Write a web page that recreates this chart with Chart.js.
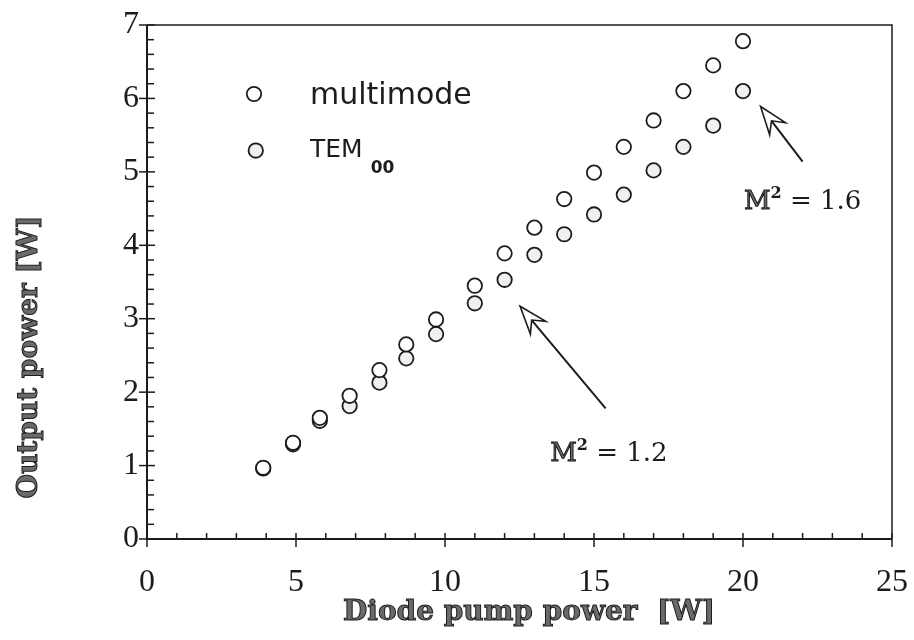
<!DOCTYPE html>
<html>
<head>
<meta charset="utf-8">
<script src="https://cdn.jsdelivr.net/npm/chart.js@4.4.0/dist/chart.umd.min.js"></script>
<style>
  html, body { margin: 0; padding: 0; background: #fff; }
  #wrap { width: 914px; height: 640px; }
</style>
</head>
<body>
<div id="wrap"><canvas id="chart" width="914" height="640"></canvas></div>
<script>
// pump power [W] and measured output power [W]
var pumpPower = [3.9, 4.9, 5.8, 6.8, 7.8, 8.7, 9.7, 11, 12, 13, 14, 15, 16, 17, 18, 19, 20];
var multimodePower = [0.97, 1.31, 1.65, 1.95, 2.30, 2.65, 2.99, 3.45, 3.89, 4.24, 4.63, 4.99, 5.34, 5.70, 6.10, 6.45, 6.78];
var tem00Power = [0.96, 1.29, 1.61, 1.81, 2.13, 2.46, 2.79, 3.21, 3.53, 3.87, 4.15, 4.42, 4.69, 5.02, 5.34, 5.63, 6.10];
var xTickLabels = ["0", "5", "10", "15", "20", "25"];
var yTickLabels = ["0", "1", "2", "3", "4", "5", "6", "7"];

// beam quality notes: arrow tip, arrow tail and label centre in data units
var notes = [
  { value: "1.2", tip: [12.52, 3.17], tail: [15.39, 1.78], label: [15.5, 1.18] },
  { value: "1.6", tip: [20.59, 5.89], tail: [22.0, 5.14], label: [22.0, 4.62] }
];

var INK = "#1c1c1c";
var SERIF = "'Liberation Serif', 'DejaVu Serif', serif";

function points(ys) {
  var out = [];
  for (var i = 0; i < pumpPower.length; i++) {
    out.push({ x: pumpPower[i], y: ys[i] });
  }
  return out;
}

function outlineText(ctx, text, x, y) {
  ctx.fillStyle = "#6a6a6a";
  ctx.fillText(text, x, y);
  ctx.lineWidth = 1;
  ctx.strokeStyle = INK;
  ctx.strokeText(text, x, y);
}

var decorations = {
  id: "decorations",
  beforeDatasetsDraw: function (chart) {
    var ctx = chart.ctx;
    var a = chart.chartArea;
    var xs = chart.scales.x;
    var ys = chart.scales.y;
    ctx.save();
    ctx.strokeStyle = INK;

    // frame
    ctx.lineWidth = 1.5;
    ctx.beginPath();
    ctx.moveTo(a.left, a.top);
    ctx.lineTo(a.right, a.top);
    ctx.lineTo(a.right, a.bottom);
    ctx.stroke();
    ctx.lineWidth = 2;
    ctx.beginPath();
    ctx.moveTo(a.left, a.top);
    ctx.lineTo(a.left, a.bottom);
    ctx.lineTo(a.right, a.bottom);
    ctx.stroke();

    // y ticks every 0.2, majors cross the axis
    ctx.lineWidth = 1.5;
    for (var i = 0; i <= 35; i++) {
      var py = ys.getPixelForValue(i / 5);
      ctx.beginPath();
      if (i % 5 === 0) {
        ctx.moveTo(a.left - 8, py);
        ctx.lineTo(a.left + 8, py);
      } else {
        ctx.moveTo(a.left, py);
        ctx.lineTo(a.left + 7, py);
      }
      ctx.stroke();
    }
    // x ticks every 1
    for (var j = 0; j <= 25; j++) {
      var px = xs.getPixelForValue(j);
      ctx.beginPath();
      if (j % 5 === 0) {
        ctx.moveTo(px, a.bottom + 8);
        ctx.lineTo(px, a.bottom - 6);
      } else {
        ctx.moveTo(px, a.bottom);
        ctx.lineTo(px, a.bottom - 6);
      }
      ctx.stroke();
    }
    ctx.restore();
  },
  afterDatasetsDraw: function (chart) {
    var ctx = chart.ctx;
    var xs = chart.scales.x;
    var ys = chart.scales.y;
    ctx.save();

    // legend
    var sets = chart.data.datasets;
    var rows = [
      { ds: sets[0], x: 3.59, y: 6.06 },
      { ds: sets[1], x: 3.65, y: 5.29 }
    ];
    for (var r = 0; r < rows.length; r++) {
      var mx = xs.getPixelForValue(rows[r].x);
      var my = ys.getPixelForValue(rows[r].y);
      ctx.beginPath();
      ctx.arc(mx, my, rows[r].ds.pointRadius, 0, Math.PI * 2);
      ctx.fillStyle = rows[r].ds.backgroundColor;
      ctx.fill();
      ctx.lineWidth = rows[r].ds.borderWidth;
      ctx.strokeStyle = rows[r].ds.borderColor;
      ctx.stroke();
    }
    var tx = xs.getPixelForValue(5.47);
    ctx.fillStyle = INK;
    ctx.textBaseline = "middle";
    ctx.textAlign = "left";
    ctx.font = "30px 'DejaVu Sans'";
    ctx.fillText("multimode", tx, ys.getPixelForValue(6.03));
    ctx.font = "25px 'DejaVu Sans'";
    ctx.fillText("TEM", tx, ys.getPixelForValue(5.29));
    var temW = ctx.measureText("TEM").width;
    ctx.font = "bold 17px 'DejaVu Sans'";
    ctx.fillText("00", tx + temW + 8, ys.getPixelForValue(5.05));

    // arrows with notched open heads
    for (var n = 0; n < notes.length; n++) {
      var note = notes[n];
      var tipX = xs.getPixelForValue(note.tip[0]);
      var tipY = ys.getPixelForValue(note.tip[1]);
      var tailX = xs.getPixelForValue(note.tail[0]);
      var tailY = ys.getPixelForValue(note.tail[1]);
      var dx = tipX - tailX, dy = tipY - tailY;
      var len = Math.sqrt(dx * dx + dy * dy);
      dx /= len; dy /= len;
      var nx = -dy, ny = dx;
      var head = 28, half = 10, notch = 18;
      ctx.strokeStyle = INK;
      ctx.lineWidth = 2;
      ctx.beginPath();
      ctx.moveTo(tailX, tailY);
      ctx.lineTo(tipX - dx * notch, tipY - dy * notch);
      ctx.stroke();
      ctx.lineWidth = 1.6;
      ctx.beginPath();
      ctx.moveTo(tipX, tipY);
      ctx.lineTo(tipX - dx * head + nx * half, tipY - dy * head + ny * half);
      ctx.lineTo(tipX - dx * notch, tipY - dy * notch);
      ctx.lineTo(tipX - dx * head - nx * half, tipY - dy * head - ny * half);
      ctx.closePath();
      ctx.fillStyle = "#fff";
      ctx.fill();
      ctx.stroke();

      // "M² = x.x" label
      var lx = xs.getPixelForValue(note.label[0]);
      var ly = ys.getPixelForValue(note.label[1]);
      ctx.textBaseline = "alphabetic";
      ctx.textAlign = "left";
      ctx.font = "26px 'DejaVu Serif'";
      var wM = ctx.measureText("M").width;
      var rest = " = " + note.value;
      var wR = ctx.measureText(rest).width;
      ctx.font = "bold 16px 'DejaVu Serif'";
      var w2 = ctx.measureText("2").width;
      var sx = lx - (wM + w2 + wR) / 2;
      var base = ly + 9;
      ctx.font = "26px 'DejaVu Serif'";
      outlineText(ctx, "M", sx, base);
      ctx.fillStyle = INK;
      ctx.fillText(rest, sx + wM + w2, base);
      ctx.font = "bold 16px 'DejaVu Serif'";
      ctx.fillText("2", sx + wM, base - 11);
    }
    ctx.restore();
  },
  afterDraw: function (chart) {
    var ctx = chart.ctx;
    ctx.save();
    ctx.font = "bold 28px 'DejaVu Serif'";
    ctx.textAlign = "center";
    ctx.textBaseline = "middle";
    outlineText(ctx, "Diode pump power  [W]", 529, 613);
    ctx.translate(30, 357);
    ctx.rotate(-Math.PI / 2);
    outlineText(ctx, "Output power [W]", 0, 0);
    ctx.restore();
  }
};

var markerStyle = {
  pointStyle: "circle",
  pointRadius: 7.2,
  pointHoverRadius: 7.2,
  borderWidth: 1.8,
  borderColor: INK,
  showLine: false
};

new Chart(document.getElementById("chart").getContext("2d"), {
  type: "scatter",
  data: {
    datasets: [
      Object.assign({ label: "multimode", data: points(multimodePower), backgroundColor: "#ffffff" }, markerStyle),
      Object.assign({ label: "TEM00", data: points(tem00Power), backgroundColor: "#f0f0f0" }, markerStyle)
    ]
  },
  options: {
    responsive: false,
    animation: false,
    events: [],
    layout: { padding: { left: 0, top: 25, right: 22, bottom: 0 } },
    plugins: {
      legend: { display: false },
      tooltip: { enabled: false }
    },
    scales: {
      x: {
        type: "linear",
        min: 0,
        max: 25,
        afterFit: function (scale) {
          scale.height = 101;
          scale.paddingLeft = 0;
          scale.paddingRight = 0;
        },
        grid: { display: false, drawTicks: false },
        border: { display: false },
        ticks: {
          stepSize: 5,
          padding: 24,
          color: INK,
          font: { family: SERIF, size: 32 },
          callback: function (v, i) { return xTickLabels[i]; }
        }
      },
      y: {
        type: "linear",
        min: 0,
        max: 7,
        afterFit: function (scale) {
          scale.width = 147;
          scale.paddingTop = 0;
          scale.paddingBottom = 0;
        },
        grid: { display: false, drawTicks: false },
        border: { display: false },
        ticks: {
          stepSize: 1,
          padding: 8,
          color: INK,
          font: { family: SERIF, size: 32 },
          callback: function (v, i) { return yTickLabels[i]; }
        }
      }
    }
  },
  plugins: [decorations]
});
</script>
</body>
</html>
